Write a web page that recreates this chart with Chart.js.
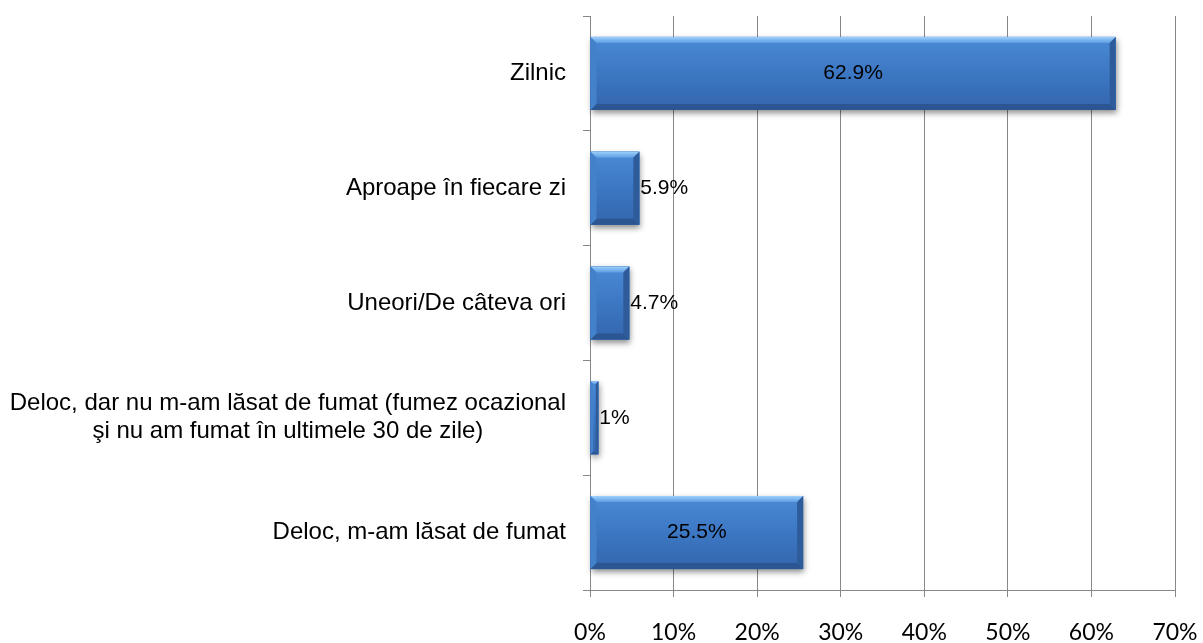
<!DOCTYPE html>
<html>
<head>
<meta charset="utf-8">
<script src="https://cdn.jsdelivr.net/npm/chart.js@4/dist/chart.umd.min.js"></script>
<style>
  html, body { margin: 0; padding: 0; background: #fff; }
  #wrap { width: 1203px; height: 643px; }
</style>
</head>
<body>
<div id="wrap"><canvas id="chart" width="1203" height="643"></canvas></div>
<script>
const categories = [
    ['Zilnic'],
    ['Aproape în fiecare zi'],
    ['Uneori/De câteva ori'],
    ['Deloc, dar nu m-am lăsat de fumat (fumez ocazional', 'şi nu am fumat în ultimele 30 de zile)'],
    ['Deloc, m-am lăsat de fumat']
];
const values = [62.9, 5.9, 4.7, 1, 25.5];
const valueLabels = ['62.9%', '5.9%', '4.7%', '1%', '25.5%'];
const xTicks = [0, 10, 20, 30, 40, 50, 60, 70];

const gridGray = '#878787';

// draws the category labels, multi-line ones centred as a block
const yLabels = {
    id: 'yLabels',
    afterDraw(chart) {
        const ctx = chart.ctx;
        const yScale = chart.scales.y;
        ctx.save();
        ctx.font = '24px "Liberation Sans", Arial, sans-serif';
        ctx.fillStyle = '#000';
        ctx.textBaseline = 'middle';
        ctx.textAlign = 'center';
        const right = yScale.right - 24;
        const lineH = 28;
        categories.forEach((lines, i) => {
            const cy = yScale.getPixelForValue(i);
            const maxW = Math.max(...lines.map(l => ctx.measureText(l).width));
            const startY = cy - (lines.length - 1) * lineH / 2;
            lines.forEach((line, j) => {
                ctx.fillText(line, right - maxW / 2, startY + j * lineH);
            });
        });
        ctx.restore();
    }
};

// shadow under the bars
const barShadow = {
    id: 'barShadow',
    beforeDatasetsDraw(chart) {
        const ctx = chart.ctx;
        const meta = chart.getDatasetMeta(0);
        ctx.save();
        meta.data.forEach(bar => {
            const p = bar.getProps(['x', 'y', 'base', 'height'], true);
            const top = p.y - p.height / 2;
            ctx.shadowColor = 'rgba(0,0,0,0.45)';
            ctx.shadowBlur = 6;
            ctx.shadowOffsetX = 1;
            ctx.shadowOffsetY = 3;
            ctx.fillStyle = '#3a72bb';
            ctx.fillRect(p.base, top, p.x - p.base, p.height);
        });
        ctx.restore();
    }
};

// bevelled look on top of each bar, plus the value labels
const barBevel = {
    id: 'barBevel',
    afterDatasetsDraw(chart) {
        const ctx = chart.ctx;
        const meta = chart.getDatasetMeta(0);
        ctx.save();
        meta.data.forEach((bar, i) => {
            const p = bar.getProps(['x', 'y', 'base', 'height'], true);
            const l = p.base, r = p.x;
            const t = p.y - p.height / 2, b = p.y + p.height / 2;
            const w = r - l, h = b - t;
            const bw = Math.min(6, w / 3, h / 4);

            const body = ctx.createLinearGradient(0, t, 0, b);
            body.addColorStop(0, '#4b8ad6');
            body.addColorStop(0.5, '#3c77c3');
            body.addColorStop(1, '#3465ad');
            ctx.fillStyle = body;
            ctx.fillRect(l, t, w, h);

            const poly = (pts, fill) => {
                ctx.beginPath();
                ctx.moveTo(pts[0][0], pts[0][1]);
                pts.slice(1).forEach(pt => ctx.lineTo(pt[0], pt[1]));
                ctx.closePath();
                ctx.fillStyle = fill;
                ctx.fill();
            };
            const topG = ctx.createLinearGradient(0, t, 0, t + bw);
            topG.addColorStop(0, '#9dd0fb');
            topG.addColorStop(1, '#5d9de3');
            poly([[l, t], [r, t], [r - bw, t + bw], [l + bw, t + bw]], topG);
            poly([[l, b], [r, b], [r - bw, b - bw], [l + bw, b - bw]], '#2b5691');
            poly([[l, t], [l + bw, t + bw], [l + bw, b - bw], [l, b]], '#4481cb');
            poly([[r, t], [r - bw, t + bw], [r - bw, b - bw], [r, b]], '#2e5c9b');

            // value label
            ctx.font = '21px "Liberation Sans", Arial, sans-serif';
            ctx.fillStyle = '#000';
            ctx.textBaseline = 'middle';
            if (values[i] > 10) {
                ctx.textAlign = 'center';
                ctx.fillText(valueLabels[i], (l + r) / 2, p.y);
            } else {
                ctx.textAlign = 'left';
                ctx.fillText(valueLabels[i], r + 1, p.y);
            }
        });
        ctx.restore();
    }
};

new Chart(document.getElementById('chart'), {
    type: 'bar',
    data: {
        labels: categories,
        datasets: [{
            data: values,
            backgroundColor: '#3c77c3',
            borderWidth: 0,
            categoryPercentage: 0.8,
            barPercentage: 0.795
        }]
    },
    plugins: [barShadow, barBevel, yLabels],
    options: {
        indexAxis: 'y',
        responsive: false,
        animation: false,
        layout: { padding: { top: 16, right: 28, left: 0, bottom: 0 } },
        plugins: {
            legend: { display: false },
            tooltip: { enabled: false }
        },
        scales: {
            x: {
                min: 0,
                max: 70,
                afterBuildTicks(scale) {
                    scale.ticks = xTicks.map(v => ({ value: v }));
                },
                afterFit(scale) {
                    scale.height = 53;
                    scale.paddingLeft = 0;
                    scale.paddingRight = 0;
                },
                grid: { color: gridGray, lineWidth: 1, tickLength: 7 },
                border: { color: gridGray },
                ticks: {
                    padding: 22,
                    color: '#000',
                    font: { family: 'Lato, "Liberation Sans", sans-serif', size: 23 },
                    callback: v => v + '%'
                }
            },
            y: {
                afterFit(scale) { scale.width = 590; },
                grid: { drawOnChartArea: false, color: gridGray, tickLength: 7, offset: true },
                border: { color: gridGray },
                ticks: { display: false }
            }
        }
    }
});
</script>
</body>
</html>
